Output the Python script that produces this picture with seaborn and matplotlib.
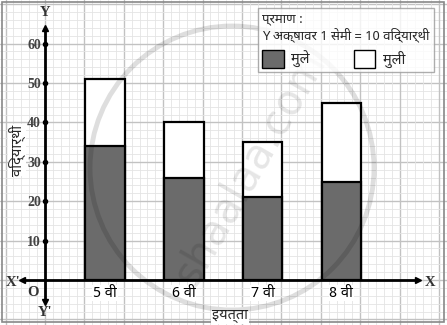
import matplotlib
matplotlib.use("Agg")
import matplotlib.pyplot as plt
import seaborn as sns
import numpy as np
import pandas as pd
from matplotlib.patches import Patch, Circle, Rectangle

sns.set_style("white")
plt.rcParams['font.family'] = ['Noto Sans Devanagari', 'Lohit Devanagari', 'Noto Sans', 'DejaVu Sans']

# ---- data ----
classes = ["5 वी", "6 वी", "7 वी", "8 वी"]
boys = [34, 26, 21, 25]
girls = [17, 14, 14, 20]
yticks = [10, 20, 30, 40, 50, 60]
boys_label = "मुले"
girls_label = "मुली"
x_title = "इयत्ता"
y_title = "विद्यार्थी"
legend_title = "प्रमाण :\nY अक्षावर 1 सेमी = 10 विद्यार्थी"

df = pd.DataFrame({"class": classes, "boys": boys, "girls": girls})
df["total"] = df["boys"] + df["girls"]

W, H = 447, 325
fig = plt.figure(figsize=(W / 100, H / 100), dpi=100)

# ---- graph paper background (pixel coords) ----
bg = fig.add_axes([0, 0, 1, 1])
bg.set_xlim(0, W)
bg.set_ylim(H, 0)
bg.axis("off")
cm = 39.4
ox, oy = 45, 280
for k in range(-20, 70):
    x = ox + k * cm / 5
    if 0 <= x <= W:
        bg.axvline(x, color="#e4e4e4" if k % 5 else "#c2c2c2", lw=0.6 if k % 5 else 1.0, zorder=0)
    y = oy + k * cm / 5 - 60 * cm / 5
    if 0 <= y <= H:
        kk = k - 60
        bg.axhline(y, color="#e4e4e4" if kk % 5 else "#c2c2c2", lw=0.6 if kk % 5 else 1.0, zorder=0)
bg.add_patch(Rectangle((2, 2), W - 5, H - 5, fill=False, ec="#888888", lw=1.2, zorder=1))
# axis extensions: X' and Y'
bg.plot([22, 45], [280, 280], color="black", lw=2, zorder=5)
bg.plot([45, 45], [280, 300], color="black", lw=2, zorder=5)
bg.plot([22], [280], marker="<", color="black", ms=4, zorder=5)
bg.plot([45], [302], marker="v", color="black", ms=4, zorder=5)
lab_kw = dict(fontsize=10.5, fontweight="bold", color="#333333", family="Liberation Serif",
              ha="center", va="center", zorder=6)
bg.text(13, 282, "X'", **lab_kw)
bg.text(33, 293, "O", **lab_kw)
bg.text(45, 313, "Y'", **lab_kw)
bg.text(45, 13, "Y", **lab_kw)
bg.text(430, 282, "X", **lab_kw)

# ---- main axes ----
px_per_unit = 2 * cm
cx0 = 105
xl = (ox - cx0) / px_per_unit
xr = (418 - cx0) / px_per_unit
top_px = 28
ax = fig.add_axes([ox / W, (H - oy) / H, (418 - ox) / W, (oy - top_px) / H])
ax.patch.set_alpha(0)

sns.barplot(data=df, x="class", y="total", color="white", edgecolor="black",
            linewidth=1.6, width=0.5, saturation=1, ax=ax, zorder=3)
sns.barplot(data=df, x="class", y="boys", color="#6b6b6b", edgecolor="black",
            linewidth=1.6, width=0.5, saturation=1, ax=ax, zorder=4)

ax.set_xlim(xl, xr)
ax.set_ylim(0, (oy - top_px) / (cm / 10))
sns.despine(ax=ax, top=True, right=True)
for s in ["left", "bottom"]:
    ax.spines[s].set_linewidth(2)
    ax.spines[s].set_color("black")
    ax.spines[s].set_zorder(5)
ax.plot([1], [0], transform=ax.transAxes, marker=">", color="black", ms=4, clip_on=False)
ax.plot([0], [1], transform=ax.transAxes, marker="^", color="black", ms=4, clip_on=False)
ax.plot(np.zeros(len(yticks)) + xl, yticks, "o", color="black", ms=3, clip_on=False, zorder=6)

ax.set_yticks(yticks)
ax.set_yticklabels([str(t) for t in yticks], fontsize=10, fontweight="bold",
                   color="#444444", family="Liberation Serif")
ax.tick_params(axis="y", length=0, pad=3)
ax.set_xticks(range(len(classes)))
ax.set_xticklabels(classes, fontsize=10.5, color="black")
ax.tick_params(axis="x", length=0, pad=4)
for lbl in ax.get_xticklabels():
    lbl.set_bbox(dict(fc="white", ec="none", pad=0.5))

ax.set_xlabel(x_title, fontsize=10.5, fontweight="bold",
              bbox=dict(fc="white", ec="none", pad=0.5))
ax.xaxis.set_label_coords((230 - ox) / (418 - ox), -(308 - oy) / (oy - top_px))
ax.set_ylabel(y_title, fontsize=10.5, fontweight="bold", va="center",
              bbox=dict(fc="white", ec="none", pad=0.5))
ax.yaxis.set_label_coords(-(ox - 17) / (418 - ox), (oy - 150) / (oy - top_px))

# ---- watermark overlay (on top, translucent) ----
wm = fig.add_axes([0, 0, 1, 1], zorder=10)
wm.set_xlim(0, W)
wm.set_ylim(H, 0)
wm.axis("off")
wm.patch.set_alpha(0)
wm.add_patch(Circle((232, 168), 142, fill=False, ec="black", alpha=0.13, lw=3.5))
wm.text(250, 168, "shaalaa.com", rotation=60, fontsize=30, color="black", alpha=0.10,
        ha="center", va="center", family="DejaVu Sans")

handles = [Patch(fc="#6b6b6b", ec="black", lw=1), Patch(fc="white", ec="black", lw=1)]
leg = fig.legend(handles, [boys_label, girls_label], ncol=2, title=legend_title,
                 loc="upper right", bbox_to_anchor=(441 / W, 1 - 1 / H),
                 frameon=True, fancybox=False, edgecolor="#999999",
                 fontsize=10.5, title_fontsize=9.5, handlelength=1.5, handleheight=1.5,
                 columnspacing=3.0, borderpad=0.3, handletextpad=0.5)
leg._legend_box.align = "left"
leg.get_title().set_fontweight("bold")
leg.get_frame().set_linewidth(1)
leg.set_zorder(20)

fig.savefig("out.png", dpi=100)
